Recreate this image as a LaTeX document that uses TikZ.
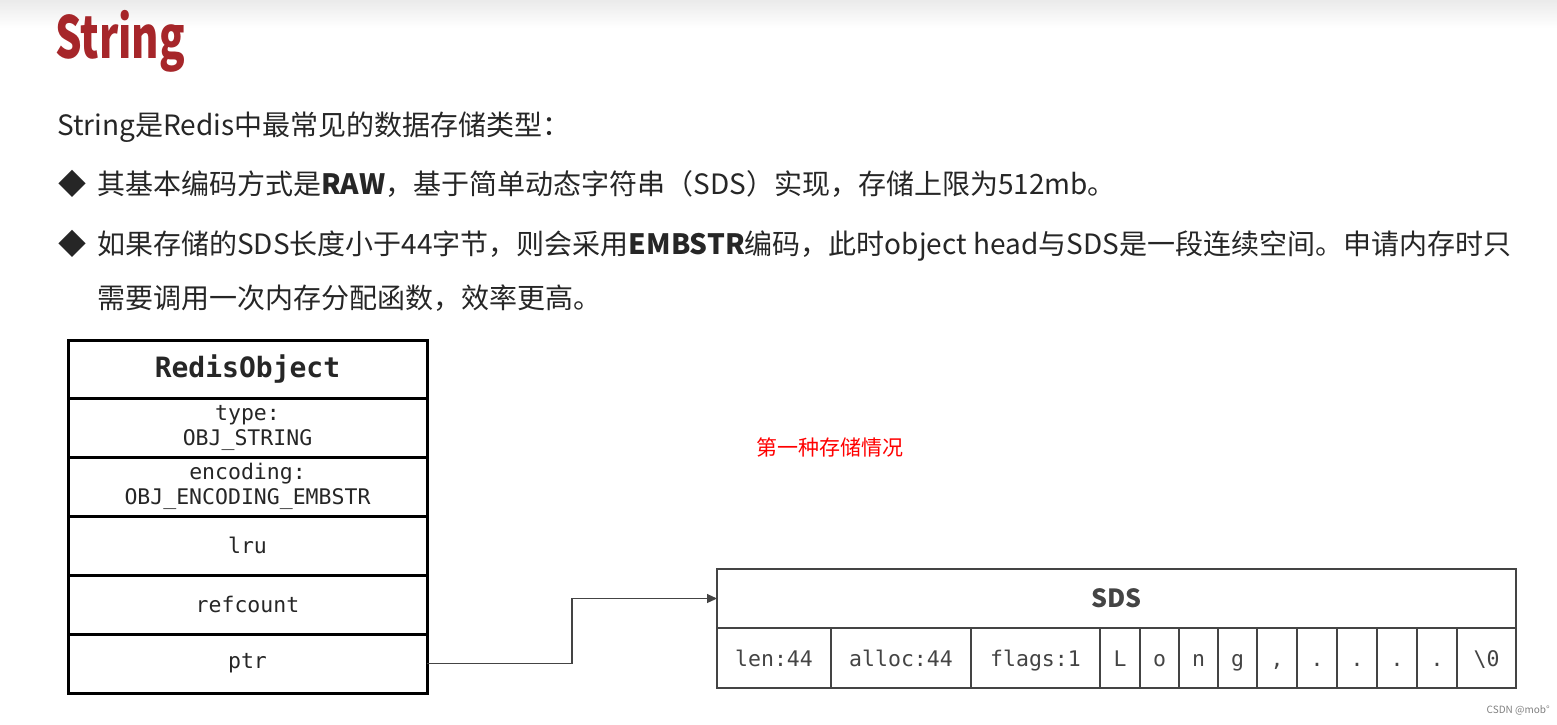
\documentclass[tikz,border=0pt]{standalone}
\usepackage{fontspec}
\usepackage{graphicx}
\newfontfamily\cjk{Noto Sans CJK SC}
\newfontfamily\mono{DejaVu Sans Mono}
\usetikzlibrary{positioning,arrows.meta}
\definecolor{titlered}{RGB}{166,38,42}
\definecolor{bodytext}{RGB}{38,38,38}
\definecolor{sdsgray}{RGB}{68,68,68}

\begin{document}
\begin{tikzpicture}[x=1pt,y=-1pt,
    textline/.style={font=\cjk\fontsize{28}{34}\selectfont, text=bodytext, anchor=base west, inner sep=0pt},
    objrow/.style={draw=black, line width=3pt, minimum width=359pt, minimum height=59pt, outer sep=0pt, inner sep=0pt,
        align=center, font=\mono\fontsize{21.5}{25}\selectfont, text=bodytext},
    sdscell/.style={draw=sdsgray, line width=2pt, minimum height=60pt, outer sep=0pt, inner sep=0pt,
        text height=17pt, text depth=1pt, font=\mono\fontsize{21.5}{25}\selectfont, text=sdsgray}]
    \useasboundingbox (0,0) rectangle (1557,724);
    \shade[top color=black!8, bottom color=white] (0,0) rectangle (1557,28);

    \node[anchor=base west, inner sep=0pt, text=titlered, font=\cjk\bfseries\fontsize{58}{58}\selectfont] (title) at (55,58) {\scalebox{0.72}[1]{String}};
    \node[textline] (intro) at (57,135) {String是Redis中最常见的数据存储类型：};
    \node[textline] (d1) at (58,194) {◆};
    \node[textline] (b1) at (97,194) {其基本编码方式是\textbf{RAW}，基于简单动态字符串（SDS）实现，存储上限为512mb。};
    \node[textline] (d2) at (58,254) {◆};
    \node[textline] (b2) at (97,254) {如果存储的SDS长度小于44字节，则会采用\textbf{EMBSTR}编码，此时object head与SDS是一段连续空间。申请内存时只};
    \node[textline] (b2b) at (97,308) {需要调用一次内存分配函数，效率更高。};

    \node[objrow, minimum height=58pt, anchor=north west, font=\mono\bfseries\fontsize{28}{32}\selectfont] (head) at (68,340) {RedisObject};
    \node[objrow, below=0pt of head] (type) {type:\\OBJ\_STRING};
    \node[objrow, below=0pt of type] (encoding) {encoding:\\OBJ\_ENCODING\_EMBSTR};
    \node[objrow, below=0pt of encoding] (lru) {lru};
    \node[objrow, below=0pt of lru] (refcount) {refcount};
    \node[objrow, below=0pt of refcount] (ptr) {ptr};

    \node[font=\cjk\fontsize{21}{25}\selectfont, text=red] (note) at (830,447) {第一种存储情况};

    \node[sdscell, minimum width=799pt, minimum height=59pt, anchor=north west, text height=, text depth=,
        font=\cjk\bfseries\fontsize{25}{30}\selectfont] (sds) at (717,569) {SDS};
    \foreach \xa/\xb/\t [count=\i] in {717/831/len:44, 831/971/alloc:44, 971/1100/flags:1, 1100/1140/L, 1140/1179/o,
        1179/1218/n, 1218/1257/g, 1257/1297/{,}, 1297/1337/., 1337/1377/., 1377/1417/., 1417/1457/., 1457/1516/\textbackslash0}
        \node[sdscell, minimum width=\xb-\xa, anchor=north west] (c\i) at (\xa,628) {\t};

    \draw[line width=1.2pt, draw=sdsgray, -{Triangle[length=10pt,width=9pt]}] (ptr.east) -- ++(145,0) |- (sds.west);

    \node[font=\cjk\fontsize{10}{12}\selectfont, text=gray, anchor=east, inner sep=0pt] (mark) at (1550,710) {CSDN @mob°};
\end{tikzpicture}
\end{document}
